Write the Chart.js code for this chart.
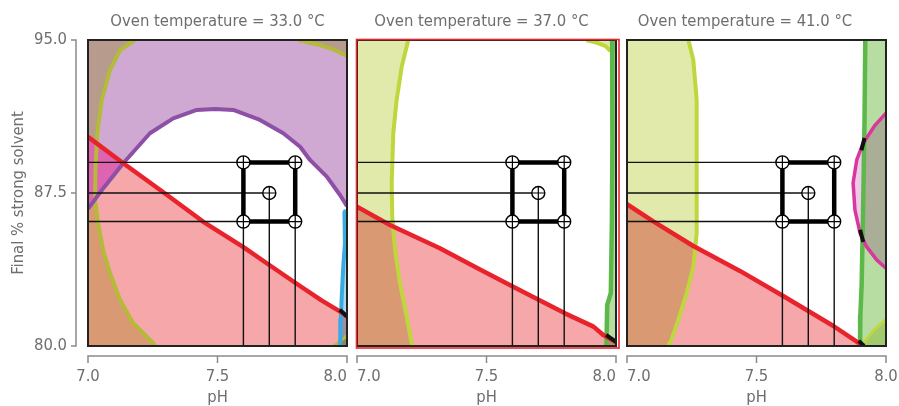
<!DOCTYPE html>
<html><head><meta charset="utf-8">
<script src="https://cdn.jsdelivr.net/npm/chart.js@4.4.0/dist/chart.umd.min.js"></script>
<style>
html,body{margin:0;padding:0;background:#fff;width:899px;height:406px;overflow:hidden}
canvas{position:absolute;left:0;top:0}
</style></head><body>
<canvas id="c1" width="899" height="406"></canvas>
<canvas id="c2" width="899" height="406"></canvas>
<canvas id="c3" width="899" height="406"></canvas>
<script>
// ---------------- data ----------------
const xRange = [7.0, 8.0];
const yRange = [80.0, 95.0];
const xTicks = [7.0, 7.5, 8.0];
const yTicks = [80.0, 87.5, 95.0];
const panelTitles = ['Oven temperature = 33.0 °C', 'Oven temperature = 37.0 °C', 'Oven temperature = 41.0 °C'];
const xTitle = 'pH';
const yTitle = 'Final % strong solvent';

// design points (same in every panel)
const designPH = [7.6, 7.8, 7.7, 7.6, 7.8];
const designSolvent = [89.0, 89.0, 87.5, 86.1, 86.1];
const boxPH = [7.6, 7.8, 7.8, 7.6, 7.6];
const boxSolvent = [89.0, 89.0, 86.1, 86.1, 89.0];

// Panel 1: 33.0 °C
const p1RedPH = [7.0, 7.135, 7.3, 7.444, 7.6, 7.7, 7.8, 7.9, 7.985, 8.0];
const p1RedSolvent = [90.25, 88.97, 87.45, 86.1, 84.85, 83.97, 83.1, 82.25, 81.6, 81.45];
const p1PurplePH = [7.0, 7.06, 7.136, 7.239, 7.329, 7.42, 7.49, 7.561, 7.664, 7.754, 7.819, 7.857, 7.922, 7.973, 8.0];
const p1PurpleSolvent = [86.72, 87.75, 88.96, 90.43, 91.16, 91.57, 91.62, 91.57, 91.08, 90.43, 89.77, 89.12, 88.3, 87.4, 86.86];
const p1OverlapPH = [7.0, 7.136, 7.06, 7.0];
const p1OverlapSolvent = [90.25, 88.96, 87.75, 86.72];
const p1OlivePH = [7.181, 7.124, 7.085, 7.053, 7.036, 7.029, 7.027, 7.039, 7.058, 7.085, 7.124, 7.174, 7.251, 7.259];
const p1OliveSolvent = [95.0, 94.51, 93.53, 92.06, 90.44, 88.77, 87.16, 86.03, 84.71, 83.58, 82.25, 81.13, 80.15, 80.0];
const p1OliveTopPH = [7.812, 7.896, 7.947, 8.0];
const p1OliveTopSolvent = [95.0, 94.75, 94.54, 94.22];
const p1OliveCornerPH = [7.95, 7.975, 8.0];
const p1OliveCornerSolvent = [80.0, 80.25, 80.5];
const p1BluePH = [7.99, 7.992, 7.986, 7.98, 7.976, 7.974];
const p1BlueSolvent = [86.6, 85.0, 84.0, 82.5, 81.3, 80.0];
const p1BlackPH = [7.972, 8.0];
const p1BlackSolvent = [81.78, 81.45];

// Panel 2: 37.0 °C
const p2OlivePH = [7.198, 7.173, 7.153, 7.14, 7.134, 7.136, 7.147, 7.166, 7.192, 7.211, 7.215];
const p2OliveSolvent = [95.0, 93.71, 92.06, 90.43, 87.98, 86.34, 84.71, 83.07, 81.44, 80.13, 80.0];
const p2OliveTopPH = [7.885, 7.93, 7.96, 7.975, 8.0];
const p2OliveTopSolvent = [95.0, 94.85, 94.7, 94.5, 94.4];
const p2GreenPH = [7.985, 7.986, 7.984, 7.98, 7.966, 7.963];
const p2GreenSolvent = [95.0, 90.0, 86.0, 82.6, 82.0, 80.0];
const p2RedPH = [7.0, 7.127, 7.32, 7.46, 7.603, 7.803, 7.913, 7.951, 8.0];
const p2RedSolvent = [86.83, 85.93, 84.79, 83.85, 82.91, 81.6, 80.95, 80.54, 80.2];
const p2BlackPH = [7.962, 8.0];
const p2BlackSolvent = [80.55, 80.2];

// Panel 3: 41.0 °C
const p3OlivePH = [7.237, 7.256, 7.269, 7.269, 7.269, 7.256, 7.23, 7.198, 7.166, 7.163];
const p3OliveSolvent = [95.0, 94.02, 92.06, 88.79, 85.52, 83.89, 82.58, 81.27, 80.13, 80.0];
const p3RedPH = [7.0, 7.1, 7.256, 7.436, 7.603, 7.797, 7.9, 7.915];
const p3RedSolvent = [86.95, 86.12, 84.9, 83.68, 82.45, 80.98, 80.1, 80.0];
const p3GreenPH = [7.92, 7.917, 7.912, 7.906, 7.901, 7.9];
const p3GreenSolvent = [95.0, 91.0, 87.0, 83.0, 81.5, 80.0];
const p3CornerPH = [7.905, 7.951, 8.0];
const p3CornerSolvent = [80.0, 80.74, 81.3];
const p3MagentaPH = [8.0, 7.958, 7.912, 7.887, 7.873, 7.88, 7.9, 7.925, 7.964, 8.0];
const p3MagentaSolvent = [91.41, 90.83, 89.94, 89.12, 87.99, 86.67, 85.52, 84.87, 84.22, 83.81];
const p3BlackPH = [7.917, 7.905, null, 7.9, 7.912, null, 7.895, 7.915];
const p3BlackSolvent = [90.2, 89.6, null, 85.7, 85.1, null, 80.25, 80.0];

// ---------------- styling ----------------
const FONT = "'Liberation Sans Narrow', 'DejaVu Sans Condensed', 'Roboto Condensed', Roboto, sans-serif";
const TEXT = '#6e6e6e';
const C = {
  pinkFill: '#f5a7aa', oliveFill: '#e2eaab', purpleFill: '#cfa9d1', greenFill: '#b7dda2',
  blueFill: '#a9d8f0', magentaFill: '#eec9ec', overlap: '#de63b0',
  red: '#e8232b', purple: '#8e4fa6', olive1: '#b3bb38', olive2: '#bfd63d', green: '#5db84a',
  blue: '#38ace0', magenta: '#d8389c', black: '#111'
};

function pts(xs, ys) { return xs.map((x, i) => ({x: x, y: (x === null ? null : ys[i])})); }
function poly(xs, ys, cx, cy) { return pts(xs, ys).concat(pts(cx, cy)); }
function fillSet(data, color, blend) {
  return {type: 'line', data, fill: 'shape', backgroundColor: color, borderWidth: 0, blend: blend || 'multiply',
          pointRadius: 0, pointHoverRadius: 0, tension: 0};
}
function lineSet(data, color, w) {
  return {type: 'line', data, fill: false, borderColor: color, borderWidth: w, pointRadius: 0,
          pointHoverRadius: 0, tension: 0, borderJoinStyle: 'round', borderCapStyle: 'butt', spanGaps: false};
}
const X0 = xRange[0], X1 = xRange[1], Y0 = yRange[0], Y1 = yRange[1];

function designLayers() {
  const guides = [];
  designPH.forEach((p, i) => {
    const s = designSolvent[i];
    guides.push({x: X0, y: s}, {x: p, y: s}, {x: p, y: Y0}, {x: p, y: null});
  });
  return [
    lineSet(guides, '#111', 1.4),
    lineSet(pts(boxPH, boxSolvent), '#000', 4.5),
    {type: 'line', data: pts(designPH, designSolvent), showLine: false, pointStyle: 'circle', pointRadius: 6.5,
     pointHoverRadius: 6.5, pointBackgroundColor: '#fff', pointBorderColor: '#000', pointBorderWidth: 1.4},
    {type: 'line', data: pts(designPH, designSolvent), showLine: false, pointStyle: 'cross', pointRadius: 6.5,
     pointHoverRadius: 6.5, pointBorderColor: '#000', pointBorderWidth: 1.2}
  ];
}

const panel1 = [
  fillSet(poly(p1OlivePH, p1OliveSolvent, [X0, X0], [Y0, Y1]), C.oliveFill),
  fillSet(poly(p1OliveTopPH, p1OliveTopSolvent, [X1], [Y1]), C.oliveFill),
  fillSet(poly(p1OliveCornerPH, p1OliveCornerSolvent, [X1], [Y0]), C.oliveFill),
  fillSet(poly(p1PurplePH, p1PurpleSolvent, [X1, X0], [Y1, Y1]), C.purpleFill),
  fillSet(poly(p1RedPH, p1RedSolvent, [X1, X0], [Y0, Y0]), C.pinkFill),
  fillSet(poly(p1BluePH, p1BlueSolvent, [X1, X1], [Y0, p1BlueSolvent[0]]), C.blueFill),
  fillSet(pts(p1OverlapPH, p1OverlapSolvent), C.overlap, 'source-over'),
  lineSet(pts(p1OlivePH, p1OliveSolvent), C.olive1, 4),
  lineSet(pts(p1OliveTopPH, p1OliveTopSolvent), C.olive1, 4),
  lineSet(pts(p1OliveCornerPH, p1OliveCornerSolvent), C.olive1, 3),
  lineSet(pts(p1BluePH, p1BlueSolvent), C.blue, 4),
  lineSet(pts(p1PurplePH, p1PurpleSolvent), C.purple, 4),
  lineSet(pts(p1RedPH, p1RedSolvent), C.red, 4.5),
  lineSet(pts(p1BlackPH, p1BlackSolvent), C.black, 4)
];
const panel2 = [
  fillSet(poly(p2OlivePH, p2OliveSolvent, [X0, X0], [Y0, Y1]), C.oliveFill),
  fillSet(poly(p2OliveTopPH, p2OliveTopSolvent, [X1], [Y1]), C.oliveFill),
  fillSet(poly(p2GreenPH, p2GreenSolvent, [X1, X1], [Y0, Y1]), C.greenFill),
  fillSet(poly(p2RedPH, p2RedSolvent, [X1, X0], [Y0, Y0]), C.pinkFill),
  lineSet(pts(p2OlivePH, p2OliveSolvent), C.olive2, 4),
  lineSet(pts(p2OliveTopPH, p2OliveTopSolvent), C.olive2, 4),
  lineSet(pts(p2GreenPH, p2GreenSolvent), C.green, 4.5),
  lineSet(pts(p2RedPH, p2RedSolvent), C.red, 4.5),
  lineSet(pts(p2BlackPH, p2BlackSolvent), C.black, 4)
];
const panel3 = [
  fillSet(poly(p3OlivePH, p3OliveSolvent, [X0, X0], [Y0, Y1]), C.oliveFill),
  fillSet(poly(p3GreenPH, p3GreenSolvent, [X1, X1], [Y0, Y1]), C.greenFill),
  fillSet(poly(p3CornerPH, p3CornerSolvent, [X1], [Y0]), C.oliveFill),
  fillSet(pts(p3MagentaPH, p3MagentaSolvent), C.magentaFill),
  fillSet(poly(p3RedPH, p3RedSolvent, [X0], [Y0]), C.pinkFill),
  lineSet(pts(p3OlivePH, p3OliveSolvent), C.olive2, 4),
  lineSet(pts(p3CornerPH, p3CornerSolvent), C.olive2, 3),
  lineSet(pts(p3GreenPH, p3GreenSolvent), C.green, 4.5),
  lineSet(pts(p3MagentaPH, p3MagentaSolvent), C.magenta, 3.5),
  lineSet(pts(p3RedPH, p3RedSolvent), C.red, 4.5),
  lineSet(pts(p3BlackPH, p3BlackSolvent), C.black, 4)
];

// ---------------- plugin: per-dataset blend of fills, frame, offset axes ----------------
function blendOf(chart, meta) {
  const ds = chart.data.datasets[meta.index];
  return ds && ds.blend ? ds.blend : 'source-over';
}
const decor = {
  id: 'decor',
  beforeDatasetsDraw(chart) {
    const metas = chart.getSortedVisibleDatasetMetas();
    chart.ctx.globalCompositeOperation = metas.length ? blendOf(chart, metas[metas.length - 1]) : 'source-over';
  },
  beforeDatasetDraw(chart) { chart.ctx.globalCompositeOperation = 'source-over'; },
  afterDatasetDraw(chart, args) {
    const metas = chart.getSortedVisibleDatasetMetas();
    const p = metas.indexOf(args.meta);
    chart.ctx.globalCompositeOperation = p > 0 ? blendOf(chart, metas[p - 1]) : 'source-over';
  },
  afterDatasetsDraw(chart, args, opts) {
    const ctx = chart.ctx, a = chart.chartArea;
    const xs = chart.scales.x, ys = chart.scales.y;
    ctx.save();
    ctx.globalCompositeOperation = 'source-over';
    ctx.lineWidth = 2; ctx.strokeStyle = '#222';
    ctx.strokeRect(a.left, a.top, a.right - a.left, a.bottom - a.top);
    if (opts.highlight) {
      ctx.strokeStyle = '#e8262b'; ctx.lineWidth = 1.6;
      ctx.strokeRect(a.left - 0.5, a.top - 0.5, a.right - a.left + 3.5, a.bottom - a.top + 2.5);
    }
    ctx.strokeStyle = '#8a8a8a'; ctx.lineWidth = 1.5;
    ctx.beginPath();
    const ay = a.bottom + 10;
    ctx.moveTo(xs.getPixelForValue(X0), ay); ctx.lineTo(xs.getPixelForValue(X1), ay);
    xs.ticks.forEach(t => { const p = xs.getPixelForValue(t.value); ctx.moveTo(p, ay - 0.75); ctx.lineTo(p, ay + 7); });
    if (opts.yAxis) {
      const ax = a.left - 12;
      ctx.moveTo(ax, ys.getPixelForValue(Y0)); ctx.lineTo(ax, ys.getPixelForValue(Y1));
      ys.ticks.forEach(t => { const p = ys.getPixelForValue(t.value); ctx.moveTo(ax + 0.75, p); ctx.lineTo(ax - 5, p); });
    }
    ctx.stroke();
    ctx.restore();
  }
};

function makeChart(id, cfg) {
  const layers = cfg.layers.concat(designLayers());
  new Chart(document.getElementById(id), {
    type: 'line',
    data: {datasets: layers.slice().reverse()},
    options: {
      responsive: false, animation: false, events: [],
      layout: {padding: {left: cfg.padL, right: cfg.padR, top: 0, bottom: 0}},
      plugins: {
        legend: {display: false}, tooltip: {enabled: false},
        filler: {propagate: false},
        title: {display: true, text: cfg.title, color: TEXT, fullSize: cfg.titleFull,
                font: {family: FONT, size: 16.5, weight: 'normal', lineHeight: 1.2},
                padding: {top: 11.5, bottom: 40 - 11.5 - 19.8}},
        decor: {yAxis: cfg.yAxis, highlight: cfg.highlight}
      },
      scales: {
        x: {type: 'linear', min: X0, max: X1,
            afterBuildTicks: s => {
              const t = xTicks.map(v => ({value: v}));
              if (cfg.spacer === 'first') t.unshift({value: X0, spacer: true});
              if (cfg.spacer === 'last') t.push({value: X1, spacer: true});
              s.ticks = t;
            },
            afterFit: s => { s.height = 60; },
            grid: {display: false, drawTicks: true, tickLength: 21}, border: {display: false},
            ticks: {padding: 0, align: 'inner', color: TEXT, font: {family: FONT, size: 16.5}, maxRotation: 0, autoSkip: false,
                    callback: (v, i, ticks) => (ticks[i] && ticks[i].spacer) ? '' : Number(v).toFixed(1)},
            title: {display: true, text: xTitle, color: TEXT, font: {family: FONT, size: 16.5, lineHeight: 1},
                    padding: {top: 0, bottom: 0}}},
        y: {type: 'linear', min: Y0, max: Y1,
            afterBuildTicks: s => { s.ticks = yTicks.map(v => ({value: v})); },
            afterFit: s => { s.width = cfg.yWidth; },
            grid: {display: false, drawTicks: false}, border: {display: false},
            ticks: {display: cfg.yAxis, padding: 21, color: TEXT, font: {family: FONT, size: 16.5},
                    callback: v => Number(v).toFixed(1)},
            title: {display: cfg.yAxis, text: yTitle, color: TEXT, font: {family: FONT, size: 16.5, lineHeight: 1},
                    padding: {top: 10.5, bottom: 0}}}
      }
    },
    plugins: [decor]
  });
}

makeChart('c1', {layers: panel1, title: panelTitles[0], padL: 0, padR: 552, yWidth: 88, yAxis: true, highlight: false, titleFull: false, spacer: 'first'});
makeChart('c2', {layers: panel2, title: panelTitles[1], padL: 347, padR: 283, yWidth: 10, yAxis: false, highlight: true, titleFull: true, spacer: 'none'});
makeChart('c3', {layers: panel3, title: panelTitles[2], padL: 604, padR: 13, yWidth: 23, yAxis: false, highlight: false, titleFull: true, spacer: 'last'});
</script>
</body></html>
